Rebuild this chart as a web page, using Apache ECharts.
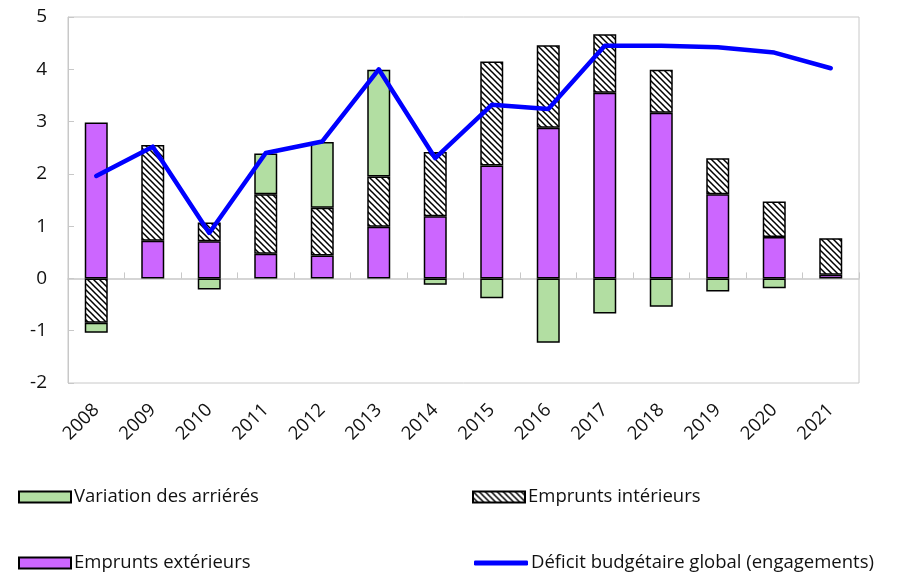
<!DOCTYPE html>
<html><head><meta charset="utf-8">
<script src="https://cdn.jsdelivr.net/npm/echarts@6/dist/echarts.min.js"></script>
<style>html,body{margin:0;padding:0;background:#fff}#c{width:905px;height:573px}</style>
</head><body><div id="c"></div>
<script>
const years = ['2008','2009','2010','2011','2012','2013','2014','2015','2016','2017','2018','2019','2020','2021'];
const arrieres = [-0.19, null, -0.21, 0.78, 1.26, 2.04, -0.12, -0.38, -1.23, -0.67, -0.54, -0.25, -0.19, null];
const interieurs = [-0.85, 1.83, 0.36, 1.14, 0.91, 0.96, 1.23, 1.99, 1.58, 1.12, 0.82, 0.69, 0.68, 0.70];
const exterieurs = [2.98, 0.72, 0.71, 0.47, 0.44, 0.99, 1.19, 2.16, 2.88, 3.55, 3.17, 1.61, 0.79, 0.07];
const deficit = [1.96, 2.52, 0.87, 2.40, 2.62, 4.00, 2.30, 3.32, 3.24, 4.45, 4.45, 4.42, 4.32, 4.02];
const yTicks = [-2, -1, 0, 1, 2, 3, 4, 5];

const FONT = 'Open Sans';
const pc = document.createElement('canvas');
pc.width = 6; pc.height = 6;
const g = pc.getContext('2d');
g.fillStyle = '#fff'; g.fillRect(0,0,6,6);
g.strokeStyle = '#000'; g.lineWidth = 1.5;
g.beginPath();
g.moveTo(-1,-1); g.lineTo(7,7);
g.moveTo(-4,2); g.lineTo(4,10);
g.moveTo(2,-4); g.lineTo(10,4);
g.stroke();

const chart = echarts.init(document.getElementById('c'));
const border = {borderColor:'#000', borderWidth:1.5};
const legendBase = {itemWidth:52, itemHeight:11, itemGap:3, icon:'rect', textStyle:{fontFamily:FONT, fontSize:18.5, color:'#111', padding:[0,0,0,-2], lineHeight:20}, padding:0};
chart.setOption({
  backgroundColor:'#fff',
  animation:false,
  grid:{left:68, right:46, top:17, bottom:190, show:true, borderColor:'#C8C8C8', borderWidth:1, backgroundColor:'#fff'},
  legend:[
    Object.assign({}, legendBase, {left:18, top:487, data:['Variation des arriérés']}),
    Object.assign({}, legendBase, {left:472, top:487, data:['Emprunts intérieurs']}),
    Object.assign({}, legendBase, {left:18, top:553, data:['Emprunts extérieurs']}),
    Object.assign({}, legendBase, {left:474, top:553, icon:'roundRect', itemWidth:54, itemHeight:5, data:['Déficit budgétaire global (engagements)']})
  ],
  xAxis:[
    {type:'category', data:years, position:'bottom', axisLine:{onZero:false, show:false}, axisTick:{show:false},
     axisLabel:{rotate:45, margin:24, fontFamily:FONT, fontSize:18.5, color:'#111', interval:0}},
    {type:'category', data:years, position:'top', axisLine:{onZero:true, lineStyle:{color:'#C8C8C8', width:1.5}},
     axisTick:{show:true, length:6, lineStyle:{color:'#C8C8C8'}}, axisLabel:{show:false}}
  ],
  yAxis:{type:'value', min:yTicks[0], max:yTicks[yTicks.length-1], interval:1,
    axisLine:{show:true, lineStyle:{color:'#C8C8C8'}}, axisTick:{show:true, inside:true, length:6, lineStyle:{color:'#C8C8C8'}},
    splitLine:{show:false}, axisLabel:{margin:21, fontFamily:FONT, fontSize:19, color:'#111'}},
  series:[
    {name:'Emprunts extérieurs', type:'bar', stack:'a', data:exterieurs, barWidth:23, itemStyle:Object.assign({color:'#CC66FF'}, border)},
    {name:'Emprunts intérieurs', type:'bar', stack:'a', data:interieurs, barWidth:23, itemStyle:Object.assign({color:{image:pc, repeat:'repeat'}}, border)},
    {name:'Variation des arriérés', type:'bar', stack:'a', data:arrieres, barWidth:23, itemStyle:Object.assign({color:'#B2DEA2'}, border)},
    {name:'Déficit budgétaire global (engagements)', type:'line', data:deficit, symbol:'none', z:10,
     lineStyle:{color:'#0000FF', width:4.5, cap:'round', join:'round'}, itemStyle:{color:'#0000FF'}}
  ]
});
</script></body></html>
